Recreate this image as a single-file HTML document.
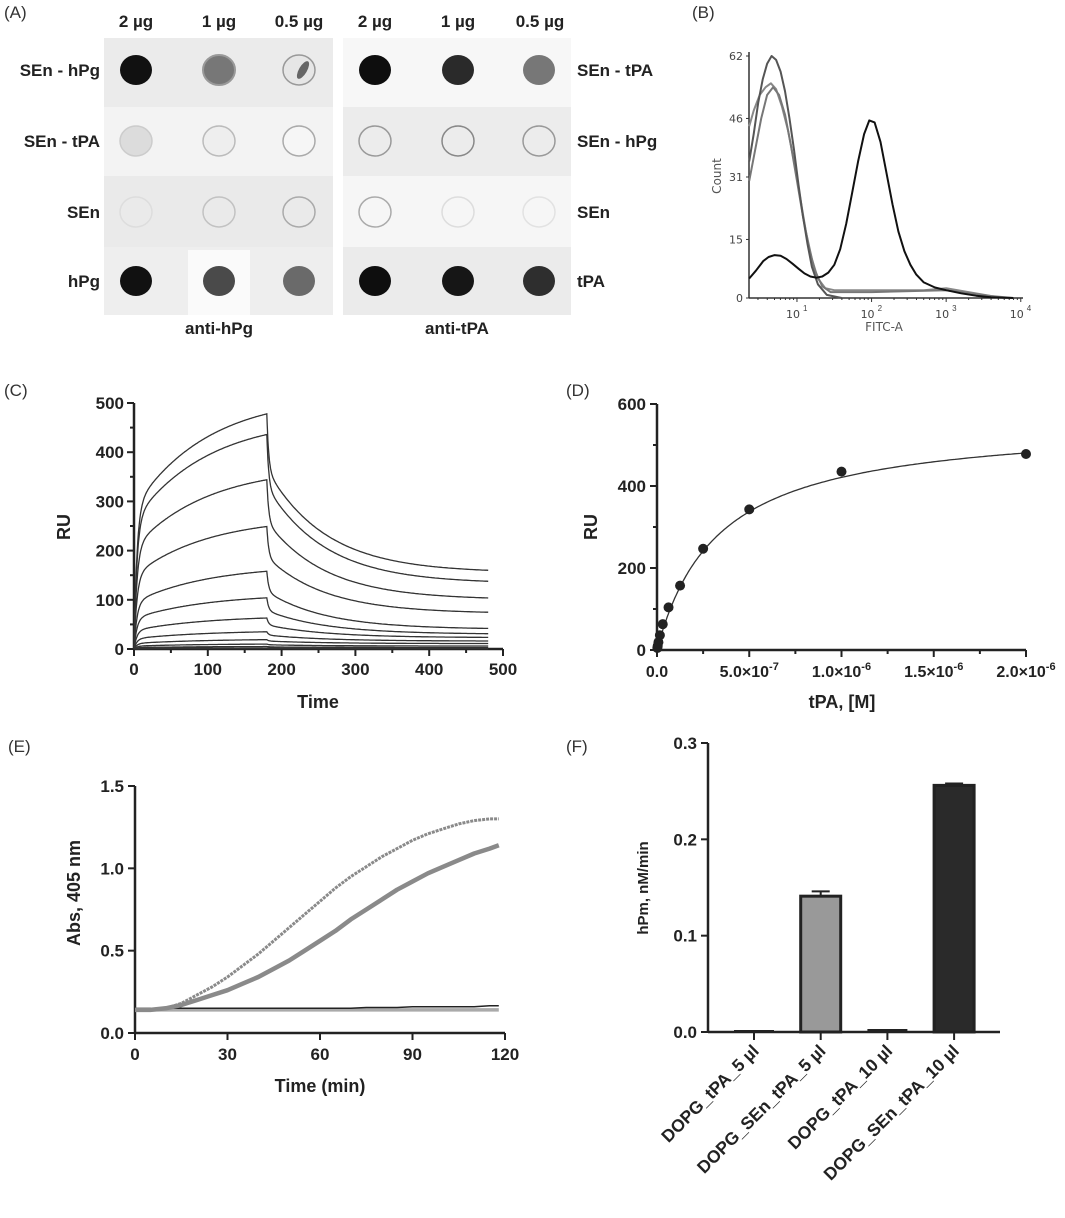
<!DOCTYPE html>
<html><head><meta charset="utf-8">
<style>
body{margin:0;background:#fff;}
svg{display:block;font-family:"Liberation Sans",Arial,sans-serif;}
.pl{font-size:17px;fill:#333;}
.bl{font-size:17px;font-weight:bold;fill:#222;}
</style></head>
<body>
<svg id="fig" width="1065" height="1218" viewBox="0 0 1065 1218">
<g>
<text class="pl" x="4" y="18">(A)</text>
<g class="bl" text-anchor="middle">
<text x="136" y="27">2 µg</text>
<text x="219" y="27">1 µg</text>
<text x="299" y="27">0.5 µg</text>
<text x="375" y="27">2 µg</text>
<text x="458" y="27">1 µg</text>
<text x="540" y="27">0.5 µg</text>
</g>
<rect x="104" y="38" width="229" height="69" fill="#ebebeb"/>
<rect x="104" y="107" width="229" height="69" fill="#f3f3f3"/>
<rect x="104" y="176" width="229" height="71" fill="#eaeaea"/>
<rect x="104" y="247" width="229" height="68" fill="#eeeeee"/>
<rect x="188" y="250" width="62" height="65" fill="#fafafa"/>
<rect x="343" y="38" width="228" height="108" fill="#f7f7f7"/>
<rect x="343" y="107" width="228" height="69" fill="#ececec"/>
<rect x="343" y="176" width="228" height="71" fill="#f6f6f6"/>
<rect x="343" y="247" width="228" height="68" fill="#ebebeb"/>
<g>
<ellipse cx="136" cy="70" rx="16" ry="15" fill="#111"/>
<ellipse cx="219" cy="70" rx="16" ry="15" fill="#777" stroke="#999" stroke-width="2"/>
<ellipse cx="299" cy="70" rx="16" ry="15" fill="#e6e6e6" stroke="#999" stroke-width="1.5"/>
<ellipse cx="303" cy="70" rx="4" ry="10" fill="#666" transform="rotate(30 303 70)"/>
<ellipse cx="136" cy="141" rx="16" ry="15" fill="#dcdcdc" stroke="#ccc" stroke-width="1.5"/>
<ellipse cx="219" cy="141" rx="16" ry="15" fill="#eee" stroke="#bbb" stroke-width="1.5"/>
<ellipse cx="299" cy="141" rx="16" ry="15" fill="#f6f6f6" stroke="#aaa" stroke-width="1.5"/>
<ellipse cx="136" cy="212" rx="16" ry="15" fill="none" stroke="#ddd" stroke-width="1.5"/>
<ellipse cx="219" cy="212" rx="16" ry="15" fill="none" stroke="#c2c2c2" stroke-width="1.5"/>
<ellipse cx="299" cy="212" rx="16" ry="15" fill="none" stroke="#aaa" stroke-width="1.5"/>
<ellipse cx="136" cy="281" rx="16" ry="15" fill="#111"/>
<ellipse cx="219" cy="281" rx="16" ry="15" fill="#4a4a4a"/>
<ellipse cx="299" cy="281" rx="16" ry="15" fill="#6a6a6a"/>
<ellipse cx="375" cy="70" rx="16" ry="15" fill="#0e0e0e"/>
<ellipse cx="458" cy="70" rx="16" ry="15" fill="#2a2a2a"/>
<ellipse cx="539" cy="70" rx="16" ry="15" fill="#777"/>
<ellipse cx="375" cy="141" rx="16" ry="15" fill="none" stroke="#999" stroke-width="1.5"/>
<ellipse cx="458" cy="141" rx="16" ry="15" fill="none" stroke="#888" stroke-width="1.5"/>
<ellipse cx="539" cy="141" rx="16" ry="15" fill="none" stroke="#999" stroke-width="1.5"/>
<ellipse cx="375" cy="212" rx="16" ry="15" fill="none" stroke="#aaa" stroke-width="1.5"/>
<ellipse cx="458" cy="212" rx="16" ry="15" fill="none" stroke="#ddd" stroke-width="1.5"/>
<ellipse cx="539" cy="212" rx="16" ry="15" fill="none" stroke="#e2e2e2" stroke-width="1.5"/>
<ellipse cx="375" cy="281" rx="16" ry="15" fill="#0e0e0e"/>
<ellipse cx="458" cy="281" rx="16" ry="15" fill="#161616"/>
<ellipse cx="539" cy="281" rx="16" ry="15" fill="#2e2e2e"/>
</g>
<g class="bl" text-anchor="end">
<text x="100" y="76">SEn - hPg</text>
<text x="100" y="147">SEn - tPA</text>
<text x="100" y="218">SEn</text>
<text x="100" y="287">hPg</text>
</g>
<g class="bl" text-anchor="start">
<text x="577" y="76">SEn - tPA</text>
<text x="577" y="147">SEn - hPg</text>
<text x="577" y="218">SEn</text>
<text x="577" y="287">tPA</text>
</g>
<text class="bl" x="219" y="334" text-anchor="middle">anti-hPg</text>
<text class="bl" x="457" y="334" text-anchor="middle">anti-tPA</text>
</g>
<text class="pl" x="692" y="18">(B)</text>
<text class="pl" x="4" y="396">(C)</text>
<text class="pl" x="566" y="396">(D)</text>
<text class="pl" x="8" y="752">(E)</text>
<text class="pl" x="566" y="752">(F)</text>
<g id="gB"></g>
<g id="gC"></g>
<g id="gD"></g>
<g id="gE"></g>
<g id="gF"></g>
</svg>
<script>
// ---- Panel B data ----
const bTicksY = [0, 15, 31, 46, 62];
const bDecades = [1, 2, 3, 4];
const bBlackLog = [0.36,0.45,0.55,0.62,0.7,0.78,0.86,0.94,1.02,1.1,1.18,1.26,1.34,1.42,1.5,1.58,1.66,1.74,1.82,1.9,1.97,2.04,2.12,2.2,2.28,2.36,2.44,2.52,2.6,2.7,2.85,3.0,3.2,3.4,3.6,3.9];
const bBlackCnt = [5,7,9.5,10.5,11,10.8,10,8.8,7.5,6.3,5.5,5.2,5.5,6.5,8.5,12.5,19,27,35,42,45.5,45,40,32,24,17,12,8.5,6,4,2.7,2,1.2,0.6,0.2,0];
const bGray1Log = [0.36,0.42,0.48,0.54,0.6,0.66,0.72,0.78,0.84,0.9,0.96,1.02,1.08,1.14,1.2,1.28,1.4,1.6];
const bGray1Cnt = [35,42,50,56,60,62,61,58,53,46,38,29,21,14,8,3.5,0.8,0];
const bGray2Log = [0.36,0.42,0.5,0.58,0.65,0.72,0.8,0.88,0.96,1.04,1.12,1.2,1.28,1.38,1.5,2.0,2.7,3.0,3.3,3.6,3.9];
const bGray2Cnt = [44,48,52,54,55,53.5,49,43,35,26,17,10,5,2.5,2,2,2,2.5,1.5,0.5,0];
const bGray3Log = [0.36,0.44,0.52,0.6,0.68,0.76,0.84,0.92,1.0,1.08,1.16,1.24,1.34,1.45,2.0,3.0,3.4,3.8];
const bGray3Cnt = [30,38,46,52,54,52,47,39,30,21,13,7,3,1.5,1.5,2,1,0];
// ---- Panel C data ----
const cXTicks = [0,100,200,300,400,500];
const cYTicks = [0,100,200,300,400,500];
const cPeakRU = [478,436,344,249,158,104,63,35,19,10,5,2,1];
const cEndRU = [155,133,100,72,40,30,23,16,11,6,3,1,0.5];
// ---- Panel D data ----
const dConc = [2e-6,1e-6,5e-7,2.5e-7,1.25e-7,6.25e-8,3.125e-8,1.5625e-8,7.8e-9,3.9e-9,1.95e-9];
const dRU = [478,435,343,247,157,104,63,36,19,10,5];
const dFitRmax = [560];
const dFitKd = [3.3e-7];
const dXTicks = [0,5e-7,1e-6,1.5e-6,2e-6];
const dXLabels = ["0.0","5.0×10","1.0×10","1.5×10","2.0×10"];
const dXExp = ["","-7","-6","-6","-6"];
const dYTicks = [0,200,400,600];
// ---- Panel E data ----
const eTime = [0,5,10,15,20,25,30,35,40,45,50,55,60,65,70,75,80,85,90,95,100,105,110,115,118];
const eUpper = [0.14,0.14,0.15,0.18,0.23,0.28,0.34,0.41,0.48,0.56,0.64,0.72,0.80,0.88,0.95,1.01,1.07,1.12,1.17,1.21,1.24,1.27,1.29,1.30,1.30];
const eLower = [0.14,0.14,0.15,0.17,0.20,0.23,0.26,0.30,0.34,0.39,0.44,0.50,0.56,0.62,0.69,0.75,0.81,0.87,0.92,0.97,1.01,1.05,1.09,1.12,1.14];
const eFlatBlack = [0.15,0.15,0.15,0.15,0.15,0.15,0.15,0.15,0.15,0.15,0.15,0.15,0.15,0.15,0.15,0.155,0.155,0.155,0.16,0.16,0.16,0.16,0.16,0.165,0.165];
const eFlatGray = [0.14,0.14,0.14,0.14,0.14,0.14,0.14,0.14,0.14,0.14,0.14,0.14,0.14,0.14,0.14,0.14,0.14,0.14,0.14,0.14,0.14,0.14,0.14,0.14,0.14];
const eXTicks = [0,30,60,90,120];
const eYTicks = [0,0.5,1.0,1.5];
// ---- Panel F data ----
const fCats = ["DOPG_tPA_5 µl","DOPG_SEn_tPA_5 µl","DOPG_tPA_10 µl","DOPG_SEn_tPA_10 µl"];
const fVals = [0,0.141,0.001,0.256];
const fErr = [0,0.005,0,0.002];
const fColors = ["#999","#999","#999","#2a2a2a"];
const fYTicks = [0,0.1,0.2,0.3];

const NS="http://www.w3.org/2000/svg";
function mk(tag,attrs,parent){const e=document.createElementNS(NS,tag);for(const k in attrs)e.setAttribute(k,attrs[k]);parent.appendChild(e);return e;}
function txt(s,attrs,parent){const e=mk('text',attrs,parent);e.textContent=s;return e;}
const TK='font-size:17px;font-weight:bold;fill:#222';

// ===== Panel B =====
(function(){
const g=document.getElementById('gB');
const x0=749,x1=1023,y0=298,y1=56;
const lx=v=>x0+(v-0.357)*74.6;
const sy=v=>y0-(v/62)*(y0-y1);
let e;
e=mk('line',{x1:x0,y1:y1-4,x2:x0,y2:y0,stroke:'#333','stroke-width':1.5},g);


e=mk('line',{x1:x0,y1:y0,x2:x1,y2:y0,stroke:'#333','stroke-width':1.5},g);


bTicksY.forEach(v=>{
 e=txt(String(v),{x:x0-6,y:sy(v)+4,'text-anchor':'end',style:'font-size:11px;fill:#444;font-family:"DejaVu Sans",sans-serif'},g);
 
 
 mk('line',{x1:x0-3,y1:sy(v),x2:x0,y2:sy(v),stroke:'#333'},g);
});
bDecades.forEach(d=>{
 const xx=lx(d);
 mk('line',{x1:xx,y1:y0,x2:xx,y2:y0+4,stroke:'#333'},g);
 for(let m=2;m<10;m++){const xm=lx(d-1+Math.log10(m));if(xm>x0)mk('line',{x1:xm,y1:y0,x2:xm,y2:y0+2,stroke:'#333'},g);}
 e=txt('10',{x:xx-4,y:y0+20,'text-anchor':'middle',style:'font-size:11px;fill:#444;font-family:"DejaVu Sans",sans-serif'},g);
 
 
 txt(String(d),{x:xx+6,y:y0+13,style:'font-size:8px;fill:#444'},g);
});
e=txt('FITC-A',{x:884,y:y0+33,'text-anchor':'middle',style:'font-size:12px;fill:#555;font-family:"DejaVu Sans",sans-serif'},g);


e=txt('Count',{x:0,y:0,'text-anchor':'middle',transform:'translate(721,176) rotate(-90)',style:'font-size:12px;fill:#555;font-family:"DejaVu Sans",sans-serif'},g);


function curve(L,C,col,w){
 const p=L.map((v,i)=>lx(v).toFixed(1)+','+sy(C[i]).toFixed(1)).join(' ');
 return mk('polyline',{points:p,fill:'none',stroke:col,'stroke-width':w,'stroke-linejoin':'round'},g);
}
e=curve(bGray2Log,bGray2Cnt,'#888',2);


e=curve(bGray3Log,bGray3Cnt,'#777',2);


e=curve(bGray1Log,bGray1Cnt,'#555',2);


e=curve(bBlackLog,bBlackCnt,'#111',2);


})();

// ===== Panel C =====
(function(){
const g=document.getElementById('gC');
const x0=134,x1=503,y0=649,y1=403;
const sx=v=>x0+v/500*(x1-x0), sy=v=>y0-v/500*(y0-y1);
let e;
e=mk('line',{x1:x0,y1:y1,x2:x0,y2:y0,stroke:'#222','stroke-width':2.5},g);


e=mk('line',{x1:x0,y1:y0,x2:x1,y2:y0,stroke:'#222','stroke-width':2.5},g);


for(let v=0;v<=500;v+=50){mk('line',{x1:x0-(v%100?4:7),y1:sy(v),x2:x0,y2:sy(v),stroke:'#222','stroke-width':2},g);mk('line',{x1:sx(v),y1:y0,x2:sx(v),y2:y0+(v%100?4:7),stroke:'#222','stroke-width':2},g);}
cYTicks.forEach(v=>{e=txt(String(v),{x:x0-10,y:sy(v)+6,'text-anchor':'end',style:TK},g);
 
 });
cXTicks.forEach(v=>{e=txt(String(v),{x:sx(v),y:y0+26,'text-anchor':'middle',style:TK},g);
 
 });
e=txt('Time',{x:318,y:708,'text-anchor':'middle',style:'font-size:18px;font-weight:bold;fill:#222'},g);


e=txt('RU',{x:0,y:0,'text-anchor':'middle',transform:'translate(70,527) rotate(-90)',style:'font-size:18px;font-weight:bold;fill:#222'},g);


const fAssoc=t=>0.6*(1-Math.exp(-t/4))+0.4*(1-Math.exp(-t/100))/(1-Math.exp(-1.8));
const hDiss=s=>0.35*Math.exp(-s/2.5)+0.65*Math.exp(-s/80);
cPeakRU.forEach((P,i)=>{
 const E=cEndRU[i];const pts=[];
 for(let t=0;t<=180;t+=1)pts.push(sx(t).toFixed(1)+','+sy(P*fAssoc(t)).toFixed(1));
 for(let t=180.5;t<=480;t+=(t<200?0.5:2)){const s=t-180;pts.push(sx(t).toFixed(1)+','+sy(E+(P-E)*hDiss(s)).toFixed(1));}
 e=mk('polyline',{points:pts.join(' '),fill:'none',stroke:'#333','stroke-width':1.3},g);
 
 
});
})();

// ===== Panel D =====
(function(){
const g=document.getElementById('gD');
const x0=657,x1=1026,y0=650,y1=404;
const sx=v=>x0+v/2e-6*(x1-x0), sy=v=>y0-v/600*(y0-y1);
let e;
e=mk('line',{x1:x0,y1:y1,x2:x0,y2:y0,stroke:'#222','stroke-width':2.5},g);


e=mk('line',{x1:x0,y1:y0,x2:x1,y2:y0,stroke:'#222','stroke-width':2.5},g);


for(let v=0;v<=600;v+=100)mk('line',{x1:x0-(v%200?4:7),y1:sy(v),x2:x0,y2:sy(v),stroke:'#222','stroke-width':2},g);
for(let k=0;k<=8;k++){const v=k*2.5e-7;mk('line',{x1:sx(v),y1:y0,x2:sx(v),y2:y0+(k%2?4:7),stroke:'#222','stroke-width':2},g);}
dYTicks.forEach(v=>{e=txt(String(v),{x:x0-11,y:sy(v)+6,'text-anchor':'end',style:TK},g);
 
 });
dXTicks.forEach((v,i)=>{
 e=mk('text',{x:sx(v),y:y0+27,'text-anchor':'middle',style:'font-size:16px;font-weight:bold;fill:#222'},g);
 
 
 const t1=mk('tspan',{},e);t1.textContent=dXLabels[i];
 if(dXExp[i]){const t2=mk('tspan',{dy:-7,style:'font-size:11px'},e);t2.textContent=dXExp[i];}
});
e=txt('tPA, [M]',{x:842,y:708,'text-anchor':'middle',style:'font-size:18px;font-weight:bold;fill:#222'},g);


e=txt('RU',{x:0,y:0,'text-anchor':'middle',transform:'translate(597,527) rotate(-90)',style:'font-size:18px;font-weight:bold;fill:#222'},g);


const pts=[];for(let k=0;k<=200;k++){const c=2e-6*Math.pow(k/200,1.6);pts.push(sx(c).toFixed(1)+','+sy(dFitRmax[0]*c/(dFitKd[0]+c)).toFixed(1));}
e=mk('polyline',{points:pts.join(' '),fill:'none',stroke:'#333','stroke-width':1.3},g);


dConc.forEach((c,i)=>{e=mk('circle',{cx:sx(c),cy:sy(dRU[i]),r:5,fill:'#222'},g);
 
 });
})();

// ===== Panel E =====
(function(){
const g=document.getElementById('gE');
const x0=135,x1=505,y0=1033,y1=786;
const sx=v=>x0+v/120*(x1-x0), sy=v=>y0-v/1.5*(y0-y1);
let e;
e=mk('line',{x1:x0,y1:y1,x2:x0,y2:y0,stroke:'#222','stroke-width':2.5},g);


e=mk('line',{x1:x0,y1:y0,x2:x1,y2:y0,stroke:'#222','stroke-width':2.5},g);


eYTicks.forEach(v=>{mk('line',{x1:x0-7,y1:sy(v),x2:x0,y2:sy(v),stroke:'#222','stroke-width':2},g);
 e=txt(v.toFixed(1),{x:x0-11,y:sy(v)+6,'text-anchor':'end',style:TK},g);
 
 });
eXTicks.forEach(v=>{mk('line',{x1:sx(v),y1:y0,x2:sx(v),y2:y0+7,stroke:'#222','stroke-width':2},g);
 e=txt(String(v),{x:sx(v),y:y0+27,'text-anchor':'middle',style:TK},g);
 
 });
e=txt('Time (min)',{x:320,y:1092,'text-anchor':'middle',style:'font-size:18px;font-weight:bold;fill:#222'},g);


e=txt('Abs, 405 nm',{x:0,y:0,'text-anchor':'middle',transform:'translate(80,893) rotate(-90)',style:'font-size:18px;font-weight:bold;fill:#222'},g);


function line(arr,col,w,dash){const p=eTime.map((t,i)=>sx(t).toFixed(1)+','+sy(arr[i]).toFixed(1)).join(' ');
 const a={points:p,fill:'none',stroke:col,'stroke-width':w,'stroke-linejoin':'round'};if(dash)a['stroke-dasharray']=dash;return mk('polyline',a,g);}
e=line(eFlatGray,'#aaa',3.5);


e=line(eFlatBlack,'#222',1.5);


e=line(eLower,'#8a8a8a',4.5);


e=line(eUpper,'#8a8a8a',3,'3 1');


})();

// ===== Panel F =====
(function(){
const g=document.getElementById('gF');
const x0=708,x1=1000,y0=1032,y1=743;
const sy=v=>y0-v/0.3*(y0-y1);
const bx=i=>754+i*66.7;
let e;
e=mk('line',{x1:x0,y1:y1,x2:x0,y2:y0,stroke:'#222','stroke-width':2.5},g);


e=mk('line',{x1:x0,y1:y0,x2:x1,y2:y0,stroke:'#222','stroke-width':2.5},g);


fYTicks.forEach(v=>{mk('line',{x1:x0-7,y1:sy(v),x2:x0,y2:sy(v),stroke:'#222','stroke-width':2},g);
 e=txt(v.toFixed(1),{x:x0-11,y:sy(v)+6,'text-anchor':'end',style:TK},g);
 
 });
e=txt('hPm, nM/min',{x:0,y:0,'text-anchor':'middle',transform:'translate(648,888) rotate(-90)',style:'font-size:15px;font-weight:bold;fill:#222'},g);


fCats.forEach((c,i)=>{
 const cx=bx(i);
 mk('line',{x1:cx,y1:y0,x2:cx,y2:y0+8,stroke:'#222','stroke-width':2},g);
 const h=y0-sy(fVals[i]);
 if(fVals[i]>0.005){
  e=mk('rect',{x:cx-20,y:sy(fVals[i]),width:40,height:h,fill:fColors[i],stroke:'#222','stroke-width':3},g);
 } else {
  e=mk('line',{x1:cx-20,y1:sy(fVals[i])-1,x2:cx+20,y2:sy(fVals[i])-1,stroke:'#222','stroke-width':2},g);
 }
 
 
 if(fErr[i]>0){
  const yt=sy(fVals[i]+fErr[i]);
  e=mk('path',{d:'M'+cx+','+sy(fVals[i])+'V'+yt+'M'+(cx-9)+','+yt+'H'+(cx+9),stroke:'#222','stroke-width':2,fill:'none'},g);
  
  
 }
 e=txt(c,{x:0,y:0,'text-anchor':'end',transform:'translate('+(cx+6)+','+(y0+20)+') rotate(-45)',style:'font-size:17.5px;font-weight:bold;fill:#222'},g);
 
 
});
})();
</script>
</body></html>
